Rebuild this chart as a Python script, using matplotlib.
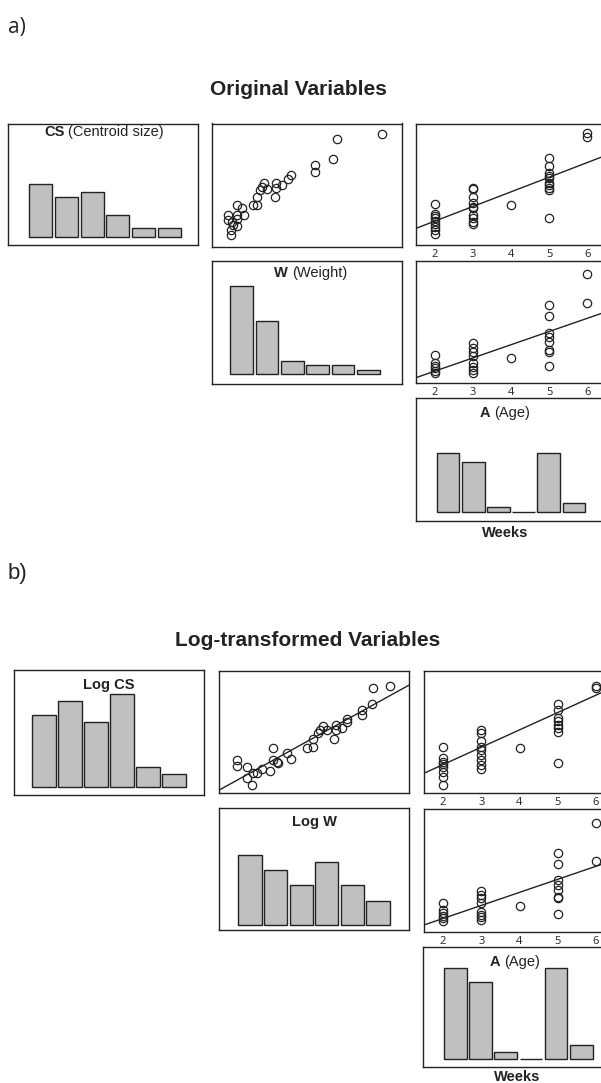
import matplotlib
matplotlib.use('Agg')
import matplotlib.pyplot as plt
import numpy as np

# ---------------- data ----------------
# a) original variables
cs_hist_counts = [12, 9, 10, 5, 2, 2]
w_hist_counts = [20, 12, 3, 2, 2, 1]
age_hist_counts = [13, 11, 1, 0, 13, 2]

# CS vs W scatter (scaled units 0-100)
w_orig = [89.5, 65.8, 64.0, 54.4, 54.4, 41.8, 40.4, 36.8, 33.9, 33.9, 33.3,
          27.7, 26.3, 25.4, 28.9, 23.7, 23.7, 21.6, 17.2, 15.8, 13.5, 13.5,
          13.2, 8.8, 8.8, 11.4, 13.2, 10.2, 10.0, 10.5]
cs_orig = [91.1, 87.8, 71.6, 66.2, 60.8, 58.6, 55.4, 50.0, 51.9, 47.8, 40.5,
           51.9, 48.6, 45.9, 47.3, 40.5, 34.3, 33.8, 26.2, 31.6, 33.8, 23.0,
           25.7, 25.7, 21.6, 17.6, 17.0, 13.5, 10.0, 20.3]

# CS vs Age
age_cs = [2]*9 + [3]*10 + [4] + [5]*10 + [6]*2
cs_by_age = [33.6, 25.3, 24.0, 22.0, 19.8, 17.1, 15.2, 12.4, 8.8,
             47.4, 46.3, 39.9, 34.4, 31.7, 30.3, 24.8, 22.0, 19.3, 17.1,
             33.1,
             71.6, 65.6, 59.2, 57.3, 55.1, 51.0, 49.6, 46.8, 45.5, 22.0,
             92.3, 89.5]
fit_cs_age = [-4.4, 12.1]          # intercept, slope

# W vs Age
age_w = [2]*6 + [3]*8 + [4] + [5]*8 + [6]*2
w_by_age = [23.2, 16.3, 14.4, 12.3, 10.1, 8.2,
            32.7, 29.2, 25.9, 22.6, 16.3, 13.6, 10.9, 8.2,
            20.4,
            64.0, 54.5, 40.9, 38.1, 33.5, 27.2, 25.9, 14.2,
            89.1, 65.4]
fit_w_age = [-11.55, 10.77]

# b) log-transformed variables
logcs_hist_counts = [10.3, 12.3, 9.3, 13.3, 2.9, 1.9]
logw_hist_counts = [10.0, 7.9, 5.7, 9.0, 5.7, 3.4]
age_hist_counts_b = [13, 11, 1, 0, 13, 2]

logw = [89.8, 80.7, 80.2, 75.3, 75.3, 67.4, 67.0, 64.4, 61.4, 61.4, 60.5,
        56.5, 54.4, 53.0, 52.1, 49.5, 49.1, 46.0, 37.7, 35.4, 30.7, 28.4,
        28.4, 26.7, 22.6, 19.6, 17.9, 14.7, 14.7, 17.4, 9.5, 9.5, 30.2]
logcs = [87.7, 85.8, 72.8, 68.1, 64.0, 60.5, 58.6, 53.1, 55.9, 51.8, 44.1,
         51.8, 55.3, 51.8, 49.0, 44.1, 37.6, 36.8, 27.8, 33.2, 24.5, 36.8,
         27.2, 18.3, 19.6, 16.3, 16.9, 21.3, 12.3, 6.8, 27.2, 22.3, 25.9]
fit_logcs_logw = [2.7, 0.859]

age_logcs = [2]*8 + [3]*9 + [4] + [5]*8 + [6]*2
logcs_by_age = [37.6, 28.6, 25.9, 24.0, 21.8, 17.7, 13.6, 6.8,
                51.8, 49.6, 43.1, 37.6, 35.4, 31.3, 27.2, 23.2, 19.6,
                36.8,
                72.8, 68.1, 61.3, 59.4, 55.9, 53.1, 50.4, 24.5,
                87.7, 85.8]
fit_logcs_age = [-4.87, 14.18]

age_logw = [2]*6 + [3]*8 + [4] + [5]*8 + [6]*2
logw_by_age = [23.1, 17.7, 14.9, 12.8, 10.9, 9.0,
               33.2, 29.9, 27.2, 23.1, 16.3, 13.6, 11.7, 9.5,
               20.9,
               63.9, 54.9, 42.1, 38.0, 34.0, 28.5, 27.2, 14.4,
               88.9, 57.6]
fit_logw_age = [-10.47, 10.63]

age_ticks = [2, 3, 4, 5, 6]
age_tick_labels = ['2', '3', '4', '5', '6']

# ---------------- layout helpers ----------------
W_PX, H_PX = 601, 1083
fig = plt.figure(figsize=(W_PX / 100, H_PX / 100), dpi=100)
fig.patch.set_facecolor('white')

INK = '#222222'
BAR = '#c0c0c0'
SANS = ['Liberation Sans', 'DejaVu Sans']
TICKF = ['Open Sans', 'DejaVu Sans']


def fx(x):
    return x / W_PX


def fy(y):
    return 1 - y / H_PX


def add_ax(l, t, r, b):
    ax = fig.add_axes([l / W_PX, 1 - b / H_PX, (r - l) / W_PX, (b - t) / H_PX])
    for s in ax.spines.values():
        s.set_linewidth(1.0)
        s.set_color(INK)
    ax.set_xticks([])
    ax.set_yticks([])
    return ax


def hist_panel(box, counts, cx0, dx, base_y, ppc):
    l, t, r, b = box
    ax = add_ax(l, t, r, b)
    idx = np.arange(len(counts))
    ax.bar(idx, counts, width=0.9, color=BAR, edgecolor=INK, linewidth=1.0)
    ax.set_xlim((l - cx0) / dx, (r - cx0) / dx)
    ax.set_ylim(-(b - base_y) / ppc, (base_y - t) / ppc)
    return ax


def scatter_panel(box, x, y, xlim, fit=None, ticks=False):
    l, t, r, b = box
    ax = add_ax(l, t, r, b)
    ax.plot(x, y, 'o', ms=6, mfc='none', mec=INK, mew=0.9, clip_on=False)
    if fit is not None:
        xs = np.array(xlim)
        ax.plot(xs, fit[0] + fit[1] * xs, color=INK, lw=1.0)
    ax.set_xlim(*xlim)
    ax.set_ylim(0, 100)
    if ticks:
        ax.set_xticks(age_ticks)
        ax.set_xticklabels(age_tick_labels, fontsize=8, family=TICKF, color=INK)
        ax.tick_params(axis='x', length=0, pad=3)
    return ax


renderer = fig.canvas.get_renderer()


def mixed_title(xc, y, bold, rest, size=10.5):
    t1 = fig.text(0, fy(y), bold, fontsize=size, fontweight='bold', family=SANS,
                  color=INK, va='center', ha='left', zorder=10)
    t2 = fig.text(0, fy(y), rest, fontsize=size, family=SANS,
                  color=INK, va='center', ha='left', zorder=10)
    w1 = t1.get_window_extent(renderer).width
    w2 = t2.get_window_extent(renderer).width if rest else 0
    gap = size * 100 / 72 * 0.278 if rest else 0
    total = w1 + gap + w2
    x0 = xc - total / 2
    t1.set_x(fx(x0))
    t2.set_x(fx(x0 + w1 + gap))


# ---------------- a) ----------------
fig.text(fx(8), fy(33), 'a)', fontsize=15, family=TICKF, color=INK, va='baseline')
fig.text(fx(298.7), fy(95), 'Original Variables', fontsize=15, fontweight='bold',
         family=SANS, color=INK, ha='center', va='baseline')

hist_panel((8.3, 124, 198.3, 245), cs_hist_counts, 40.7, 25.7, 236.7, 4.43)
mixed_title(104, 131.5, 'CS', '(Centroid size)')

scatter_panel((211.7, 123.5, 401.7, 247), w_orig, cs_orig, (0, 100))

px_unit = 38.1
scatter_panel((416, 124, 416 + 5 * px_unit, 245), age_cs, cs_by_age, (1.5, 6.5),
              fit=fit_cs_age, ticks=True)

hist_panel((211.7, 260.7, 401.7, 384.3), w_hist_counts, 241.7, 25.3, 374.3, 4.43)
mixed_title(311, 273.3, 'W', '(Weight)')

scatter_panel((416, 260.7, 416 + 5 * px_unit, 383.3), age_w, w_by_age, (1.5, 6.5),
              fit=fit_w_age, ticks=True)

hist_panel((416, 398.3, 416 + 5 * px_unit, 521), age_hist_counts, 448, 25.2, 511.7, 4.5)
mixed_title(505, 413, 'A', '(Age)')
fig.text(fx(505), fy(533), 'Weeks', fontsize=10.5, fontweight='bold', family=SANS,
         color=INK, ha='center', va='center')

# ---------------- b) ----------------
fig.text(fx(8), fy(579), 'b)', fontsize=16, family=SANS, color=INK, va='baseline')
fig.text(fx(307.5), fy(645.5), 'Log-transformed Variables', fontsize=15,
         fontweight='bold', family=SANS, color=INK, ha='center', va='baseline')

hist_panel((14, 670, 204, 795), logcs_hist_counts, 44, 26, 787, 7.0)
mixed_title(109, 685, 'Log CS', '')

scatter_panel((219.3, 671, 409.3, 793.3), logw, logcs, (0, 100), fit=fit_logcs_logw)

px_unit_b = 38.2
scatter_panel((424, 671, 424 + 5 * px_unit_b, 793.3), age_logcs, logcs_by_age,
              (1.5, 6.5), fit=fit_logcs_age, ticks=True)

hist_panel((219, 808, 409, 930), logw_hist_counts, 250, 25.6, 925, 7.0)
mixed_title(314, 822, 'Log W', '')

scatter_panel((424, 809, 424 + 5 * px_unit_b, 931.7), age_logw, logw_by_age,
              (1.5, 6.5), fit=fit_logw_age, ticks=True)

hist_panel((423.3, 947.3, 423.3 + 5 * px_unit_b, 1066.7), age_hist_counts_b,
           455.3, 25.2, 1059.3, 7.0)
mixed_title(515, 961.7, 'A', '(Age)')
fig.text(fx(517), fy(1076.7), 'Weeks', fontsize=10.5, fontweight='bold', family=SANS,
         color=INK, ha='center', va='center')

fig.savefig('out.png', dpi=100, facecolor='white')
